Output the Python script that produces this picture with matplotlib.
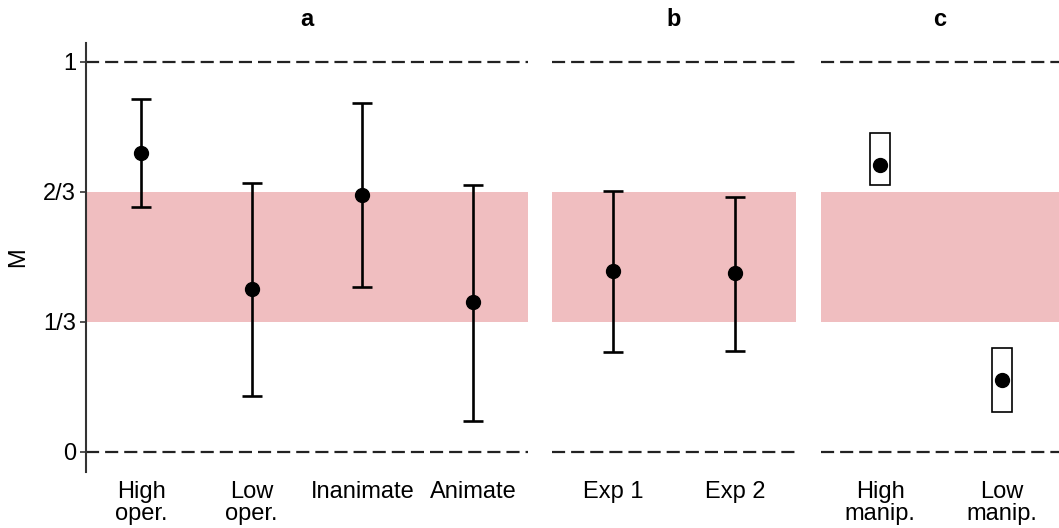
import matplotlib
matplotlib.use("Agg")
import matplotlib.pyplot as plt
from matplotlib.patches import Rectangle

plt.rcParams['font.family'] = ['Liberation Sans', 'DejaVu Sans']

# Panel a
a_labels = ["High\noper.", "Low\noper.", "Inanimate", "Animate"]
a_mean = [0.767, 0.418, 0.659, 0.385]
a_low = [0.628, 0.144, 0.423, 0.079]
a_high = [0.905, 0.690, 0.895, 0.685]

# Panel b
b_labels = ["Exp 1", "Exp 2"]
b_mean = [0.464, 0.459]
b_low = [0.256, 0.259]
b_high = [0.669, 0.654]

# Panel c (boxes)
c_labels = ["High\nmanip.", "Low\nmanip."]
c_mean = [0.736, 0.185]
c_low = [0.685, 0.103]
c_high = [0.818, 0.267]

yticks = [0, 1/3, 2/3, 1]
yticklabels = ["0", "1/3", "2/3", "1"]

W, H = 1059, 528
fig = plt.figure(figsize=(W/100, H/100), dpi=100)
bottom = 1 - 471.5/H
height = (471.5 - 42.5)/H
FS = 17
PINK = "#F0BEC0"

def panel(left_px, right_px):
    return fig.add_axes([left_px/W, bottom, (right_px-left_px)/W, height])

axa = panel(85.7, 528.3)
axb = panel(552, 796)
axc = panel(821, 1059)

for ax, title, n, xl in [(axa, "a", 4, (-0.5, 3.5)), (axb, "b", 2, (-0.5, 1.5)), (axc, "c", 2, (-0.484, 1.467))]:
    ax.set_xlim(*xl)
    ax.set_ylim(-0.05, 1.05)
    ax.axhspan(1/3, 2/3, color=PINK, lw=0, zorder=0)
    for yv in (0, 1):
        ax.axhline(yv, color="#222222", lw=1.6, ls=(0, (5.9, 2.7)), zorder=1)
    for s in ["top", "right", "bottom"]:
        ax.spines[s].set_visible(False)
    ax.set_title(title, fontsize=FS, fontweight="bold", pad=12)
    ax.tick_params(axis="x", length=0, labelsize=FS, pad=7)
    ax.set_xticks(range(n))

axa.set_xticklabels(a_labels, fontsize=FS, linespacing=1.0, va="top")
axb.set_xticklabels(b_labels, fontsize=FS)
axc.set_xticklabels(c_labels, fontsize=FS, linespacing=1.0)

axa.spines["left"].set_color("#333333")
axa.spines["left"].set_linewidth(1.5)
axa.set_yticks(yticks)
axa.set_yticklabels(yticklabels, fontsize=FS)
axa.tick_params(axis="y", length=4, width=1.2, color="#333333", labelsize=FS, pad=3)
axa.set_ylabel("M", fontsize=FS, labelpad=10)

for ax in (axb, axc):
    ax.spines["left"].set_visible(False)
    ax.set_yticks([])

def errs(ax, mean, lo, hi):
    x = list(range(len(mean)))
    yerr = [[m - l for m, l in zip(mean, lo)], [h - m for m, h in zip(mean, hi)]]
    ax.errorbar(x, mean, yerr=yerr, fmt="o", color="black", ms=10,
                elinewidth=1.9, capsize=7.5, capthick=1.9, zorder=3)

errs(axa, a_mean, a_low, a_high)
errs(axb, b_mean, b_low, b_high)

bw = 0.164
for i, (m, l, h) in enumerate(zip(c_mean, c_low, c_high)):
    axc.add_patch(Rectangle((i - bw/2, l), bw, h - l, fill=False, ec="black", lw=1.2, zorder=2))
axc.plot(range(len(c_mean)), c_mean, "o", color="black", ms=10, zorder=3)

fig.savefig("out.png", dpi=100)
